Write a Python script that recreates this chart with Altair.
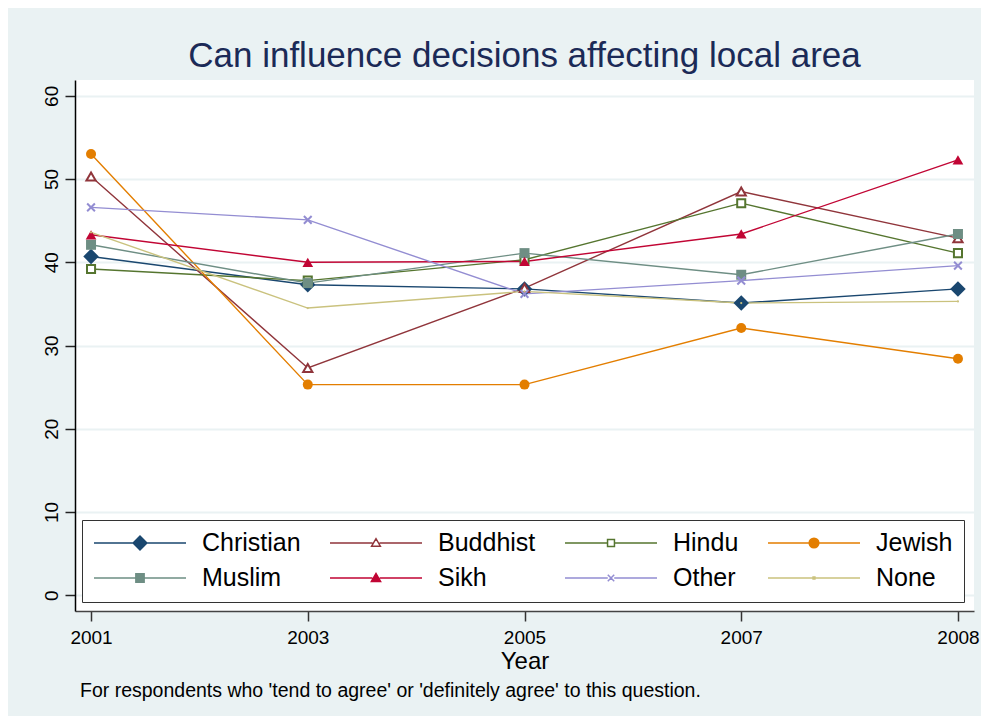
import altair as alt
import pandas as pd

# ---------------- data ----------------
years = ["2001", "2003", "2005", "2007", "2008"]
series = ["Christian", "Buddhist", "Hindu", "Jewish", "Muslim", "Sikh", "Other", "None"]

christian = [40.7, 37.3, 36.8, 35.1, 36.8]
buddhist = [50.3, 27.3, 36.9, 48.5, 42.9]
hindu = [39.2, 37.8, 40.3, 47.1, 41.1]
jewish = [53.0, 25.3, 25.3, 32.1, 28.4]
muslim = [42.1, 37.5, 41.1, 38.5, 43.4]
sikh = [43.3, 40.0, 40.1, 43.4, 52.3]
other = [46.6, 45.1, 36.2, 37.8, 39.6]
none_ = [43.6, 34.5, 36.5, 35.1, 35.3]

y_ticks = [0, 10, 20, 30, 40, 50, 60]
title_text = "Can influence decisions affecting local area"
x_title = "Year"
footnote = "For respondents who 'tend to agree' or 'definitely agree' to this question."

# ---------------- styles ----------------
colors = ["#1A476F", "#90353B", "#55752F", "#E37E00", "#6E8E84", "#C10534", "#938DD2", "#CAC27E"]
X_PATH = "M-1,-1L1,1M-1,1L1,-1"
plot_shapes = ["diamond", "triangle-up", "square", "circle", "square", "triangle-up", X_PATH, "circle"]
plot_sizes = [240, 85, 65, 100, 100, 115, 60, 5]
plot_filled = [True, False, False, True, True, True, False, True]

def leg(marker, gap):
    return f"M-1,0H{-gap}M{gap},0H1" + marker

legend_shapes = [
    leg("M-0.15,0L0,-0.15L0.15,0L0,0.15Z", 0.15),
    leg("M-0.095,0.07L0,-0.095L0.095,0.07Z", 0.075),
    leg("M-0.075,-0.075H0.075V0.075H-0.075Z", 0.075),
    leg("M-0.105,0A0.105,0.105 0 1,0 0.105,0A0.105,0.105 0 1,0 -0.105,0Z", 0.105),
    leg("M-0.09,-0.09H0.09V0.09H-0.09Z", 0.09),
    leg("M-0.1,0.075L0,-0.1L0.1,0.075Z", 0.08),
    leg("M-0.07,-0.07L0.07,0.07M-0.07,0.07L0.07,-0.07", 0.07),
    leg("M-0.02,-0.02H0.02V0.02H-0.02Z", 0.02),
]
legend_fills = [colors[0], "white", "white", colors[3], colors[4], colors[5], colors[6], colors[7]]

values = [christian, buddhist, hindu, jewish, muslim, sikh, other, none_]
rows = []
for s, vals in zip(series, values):
    for yr, v in zip(years, vals):
        rows.append({"series": s, "year": yr, "value": v})
df = pd.DataFrame(rows)

FONT = "Liberation Sans"

x_enc = alt.X(
    "year:O",
    sort=years,
    scale=alt.Scale(type="point", padding=0.074),
    axis=alt.Axis(
        title=x_title, labelAngle=0, labelFontSize=19, labelFont=FONT, labelColor="black",
        tickSize=10, tickColor="#333333", tickWidth=1.5, domainColor="#444444", domainWidth=1.5,
        titleFontSize=24, titleFont=FONT, titleFontWeight="normal", titleColor="black",
        titlePadding=2, labelPadding=7, grid=False,
    ),
)
y_enc = alt.Y(
    "value:Q",
    scale=alt.Scale(domain=[-1.9, 61.9], nice=False, zero=False),
    axis=alt.Axis(
        title=None, values=y_ticks, labelAngle=-90, labelAlign="center", labelBaseline="bottom",
        labelFontSize=19, labelFont=FONT, labelColor="black", tickSize=10, tickColor="#222222",
        tickWidth=1.5, domainColor="black", domainWidth=1.5, gridColor="#EAF2F3", gridWidth=2,
        labelPadding=4,
    ),
)

legend = alt.Legend(
    title=None, orient="none", direction="horizontal", legendX=7, legendY=440, columns=4,
    columnPadding=28, rowPadding=10, padding=11, fillColor="white", strokeColor="#333333",
    labelFontSize=25, labelFont=FONT, labelColor="black", labelOffset=15,
    symbolSize=8464, clipHeight=24, symbolStrokeWidth=1.5, symbolOpacity=1, symbolOffset=0,
)

color_scale = alt.Scale(domain=series, range=colors)

base = alt.Chart(df)

lines = base.mark_line(strokeWidth=1.4).encode(
    x=x_enc, y=y_enc,
    color=alt.Color("series:N", scale=color_scale, legend=legend),
    detail="series:N",
)

layers = [lines]
for s, c, shp, sz, fl in zip(series, colors, plot_shapes, plot_sizes, plot_filled):
    layers.append(
        base.transform_filter(alt.datum.series == s).mark_point(
            shape=shp, size=sz, filled=fl, color=c, opacity=1,
            strokeWidth=1 if fl else 2, fill=c if fl else "white",
        ).encode(x=x_enc, y=y_enc)
    )

legend_layer = base.mark_point(opacity=0).encode(
    x=x_enc, y=y_enc,
    color=alt.Color("series:N", scale=color_scale, legend=legend),
    shape=alt.Shape("series:N", scale=alt.Scale(domain=series, range=legend_shapes), legend=legend),
    fill=alt.Fill("series:N", scale=alt.Scale(domain=series, range=legend_fills), legend=legend),
)
layers.append(legend_layer)

note = alt.Chart(pd.DataFrame({"note": [footnote]})).mark_text(
    align="left", baseline="middle", fontSize=19.5, font=FONT, color="black"
).encode(x=alt.value(5), y=alt.value(611), text="note:N")
layers.append(note)

chart = alt.layer(*layers).properties(
    width=899, height=531,
    title=alt.Title(title_text, fontSize=35, font=FONT, fontWeight="normal", color="#1B2A57",
                    anchor="middle", frame="group", offset=6),
    background="#EAF2F3",
    padding={"left": 67, "top": 72, "right": 7, "bottom": 105},
    autosize=alt.AutoSizeParams(type="none"),
).configure_view(fill="white", stroke=None)

chart.save("out.html", embed_options={"renderer": "svg", "actions": False})
